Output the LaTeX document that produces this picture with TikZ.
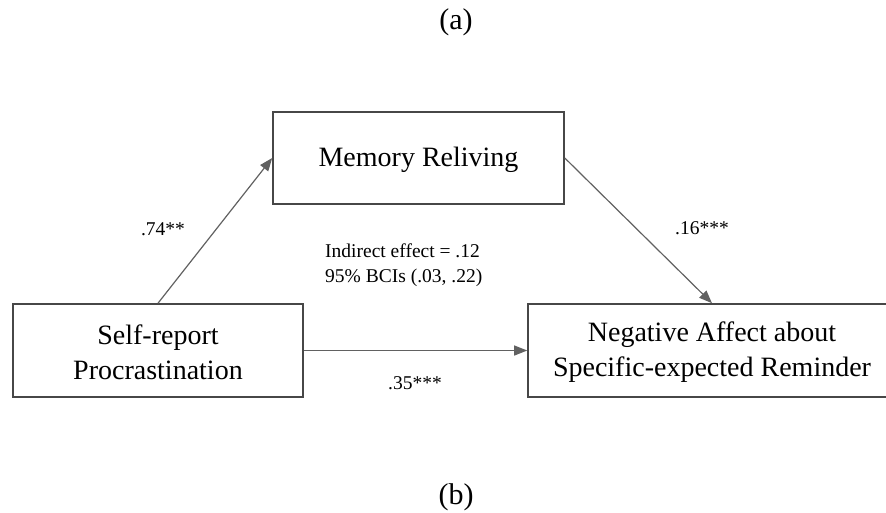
\documentclass[tikz,border=0pt]{standalone}
\usepackage{fontspec}
\setmainfont{Liberation Serif}
\usetikzlibrary{arrows.meta}
\tikzset{
  box/.style={draw=black!72, line width=1.6pt, fill=white, inner sep=0pt, align=center, font=\fontsize{28}{35}\selectfont},
  boxtext/.style={inner sep=0pt, align=center, font=\fontsize{28}{35}\selectfont},
  conn/.style={draw=black!62, line width=1.2pt, -{Triangle[length=13pt,width=10pt]}},
  coef/.style={font=\fontsize{19.5}{24}\selectfont, inner sep=0pt},
  captext/.style={font=\fontsize{30}{36}\selectfont, inner sep=0pt}
}
\begin{document}
\begin{tikzpicture}[x=1pt,y=-1pt]
\useasboundingbox (0,0) rectangle (886,512);
\clip (0,0) rectangle (886,512);
\node[captext] (capa) at (456,22) {(a)};
\node[captext] (capb) at (456,497) {(b)};
\node[box, minimum width=291pt, minimum height=92pt] (mem) at (418.5,158) {};
\node[boxtext] (memt) at (418.5,160) {Memory Reliving};
\node[box, minimum width=290pt, minimum height=93pt] (self) at (158,350.5) {};
\node[boxtext] (selft) at (158,352) {Self-report\\Procrastination};
\node[box, minimum width=368pt, minimum height=93pt] (neg) at (712,350.5) {};
\node[boxtext] (negt) at (712,352) {Negative Affect about\\Specific-expected Reminder};
\draw[conn] (self.north) -- (mem.west);
\draw[conn] (mem.east) -- (neg.north);
\draw[conn] (self.east) -- (neg.west);
\node[coef] (l74) at (163,229) {.74**};
\node[coef] (l16) at (702,228) {.16***};
\node[coef] (l35) at (415,383) {.35***};
\node[coef, anchor=west, align=left, font=\fontsize{19.5}{25}\selectfont] (ind) at (325,265) {Indirect effect = .12\\95\% BCIs (.03, .22)};
\end{tikzpicture}
\end{document}
